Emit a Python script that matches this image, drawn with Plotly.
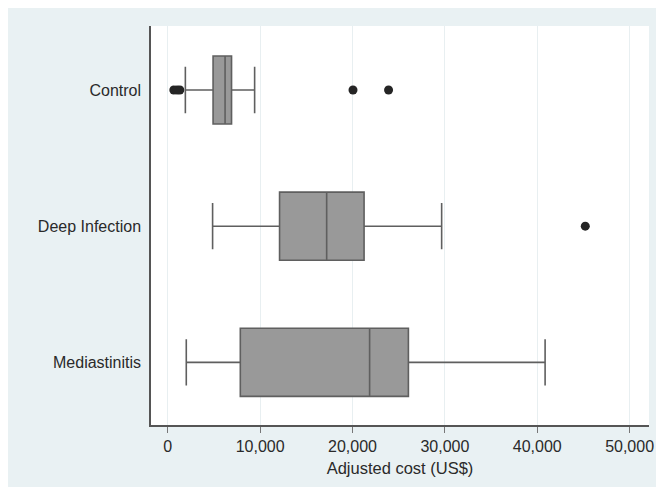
import plotly.graph_objects as go

categories = ["Control", "Deep Infection", "Mediastinitis"]
q1 = [4900, 12100, 7850]
median = [6200, 17200, 21850]
q3 = [6900, 21250, 26050]
lower_whisker = [1900, 4850, 2000]
upper_whisker = [9400, 29650, 40850]

outlier_cat = ["Control", "Control", "Control", "Control", "Control", "Deep Infection"]
outlier_val = [650, 1000, 1300, 20050, 23900, 45200]

x_ticks = [0, 10000, 20000, 30000, 40000, 50000]
x_ticktext = ["0", "10,000", "20,000", "30,000", "40,000", "50,000"]

fig = go.Figure()
fig.add_trace(go.Box(
    y=categories, q1=q1, median=median, q3=q3,
    lowerfence=lower_whisker, upperfence=upper_whisker,
    orientation="h", boxpoints=False,
    fillcolor="#999999", line=dict(color="#5f5f5f", width=1.6),
    width=0.5, whiskerwidth=0.68, showlegend=False, hoverinfo="skip",
))
fig.add_trace(go.Scatter(
    x=outlier_val, y=outlier_cat, mode="markers",
    marker=dict(color="#252525", size=9), showlegend=False, hoverinfo="skip",
))

fig.update_layout(
    width=656, height=479,
    margin=dict(l=143, r=10, t=18, b=62),
    paper_bgcolor="#e9f1f3", plot_bgcolor="white",
    font=dict(family="Liberation Sans, Arial, sans-serif", size=16, color="#2a2a2a"),
    xaxis=dict(
        range=[-1820, 52100], tickvals=x_ticks, ticktext=x_ticktext,
        showgrid=True, gridcolor="#e8eff1", gridwidth=1, zeroline=False,
        showline=True, linecolor="#555555", linewidth=1.5,
        ticks="outside", ticklen=6, tickcolor="#777777", tickwidth=1.2,
        title=dict(text="Adjusted cost (US$)", standoff=8, font=dict(size=16.5)),
        tickfont=dict(size=16),
    ),
    yaxis=dict(
        type="category", categoryorder="array", categoryarray=categories,
        range=[2.46, -0.47], showgrid=False, zeroline=False,
        showline=True, linecolor="#555555", linewidth=1.5,
        ticks="", ticklabelstandoff=5, tickfont=dict(size=16),
    ),
)

fig.write_html("out.html")
